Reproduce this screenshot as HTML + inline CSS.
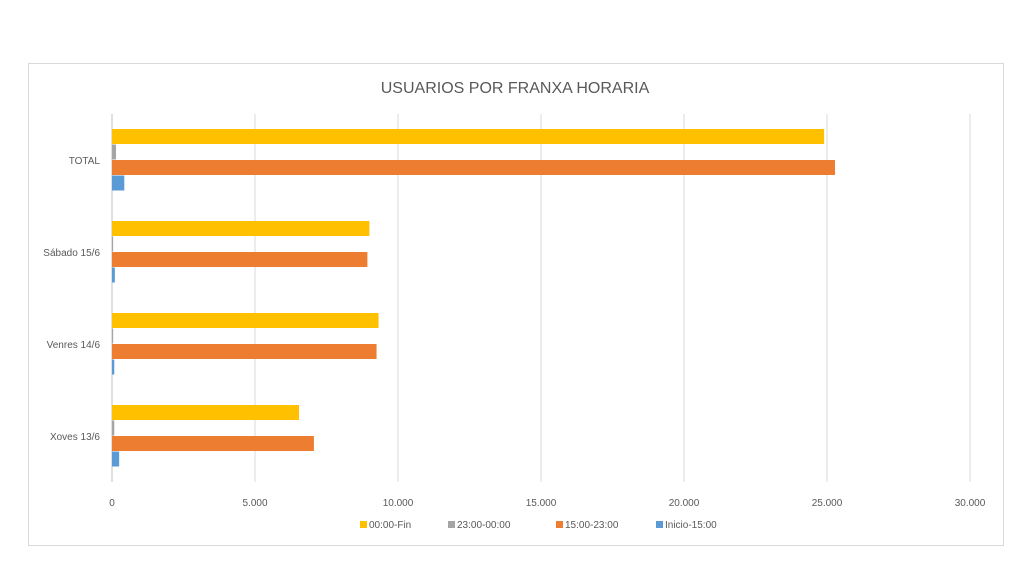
<!DOCTYPE html>
<html><head><meta charset="utf-8"><style>
body{margin:0;background:#fff;width:1024px;height:577px;overflow:hidden;font-family:"Liberation Sans",sans-serif}
</style></head><body>
<svg id="chart" width="1024" height="577" xmlns="http://www.w3.org/2000/svg">
<rect x="28.5" y="63.5" width="975" height="482" fill="#fff" stroke="#d9d9d9"/>
<text x="515" y="93" text-anchor="middle" font-size="16" fill="#595959">USUARIOS POR FRANXA HORARIA</text>
<g id="grid"></g><g id="bars"></g><g id="labels"></g><g id="legend"></g>
</svg>
<script>
const categories=["TOTAL","Sábado 15/6","Venres 14/6","Xoves 13/6"];
const seriesNames=["00:00-Fin","23:00-00:00","15:00-23:00","Inicio-15:00"];
const s0000=[24900,9000,9320,6540];
const s2300=[140,40,40,80];
const s1500=[25280,8930,9250,7060];
const sInicio=[430,100,80,250];
const xTicks=[0,5000,10000,15000,20000,25000,30000];
const xTickLabels=["0","5.000","10.000","15.000","20.000","25.000","30.000"];
const colors=["#ffc000","#a5a5a5","#ed7d31","#5b9bd5"];
const NS="http://www.w3.org/2000/svg";
const X0=112,X1=970,Y0=114,band=92,bh=15.5;
function x(v){return X0+(X1-X0)*v/30000;}
function yCat(i){return Y0+band*i+band/2;}
function mk(t,a,p){const e=document.createElementNS(NS,t);for(const k in a)e.setAttribute(k,a[k]);p.appendChild(e);return e;}
const grid=document.getElementById('grid'),bars=document.getElementById('bars'),labels=document.getElementById('labels'),legend=document.getElementById('legend');
xTicks.forEach((t,i)=>{
 const l=mk('line',{x1:x(t),x2:x(t),y1:Y0,y2:Y0+band*4,stroke:i==0?'#bfbfbf':'#d9d9d9','stroke-width':1},grid);
 
 
 const tx=mk('text',{x:x(t),y:506,'text-anchor':'middle','font-size':10,fill:'#595959'},labels);
 tx.textContent=xTickLabels[i];
 
 
});
const all=[s0000,s2300,s1500,sInicio];
categories.forEach((c,i)=>{
 const cy=yCat(i);
 const tx=mk('text',{x:100,y:cy+4,'text-anchor':'end','font-size':10,fill:'#595959'},labels);
 tx.textContent=c;
 
 
 all.forEach((s,j)=>{
  const top=cy-2*bh+j*bh;
  const r=mk('rect',{x:X0,y:top,width:Math.max(0,x(s[i])-X0),height:bh-0.5,fill:colors[j]},bars);
  
  
 });
});
const lx=[360,448,556,656];
seriesNames.forEach((n,j)=>{
 const r=mk('rect',{x:lx[j],y:521,width:7,height:7,fill:colors[j]},legend);
 
 
 const t=mk('text',{x:lx[j]+9,y:528,'font-size':10,fill:'#595959'},legend);
 t.textContent=n;
 
 
});
</script>
</body></html>
